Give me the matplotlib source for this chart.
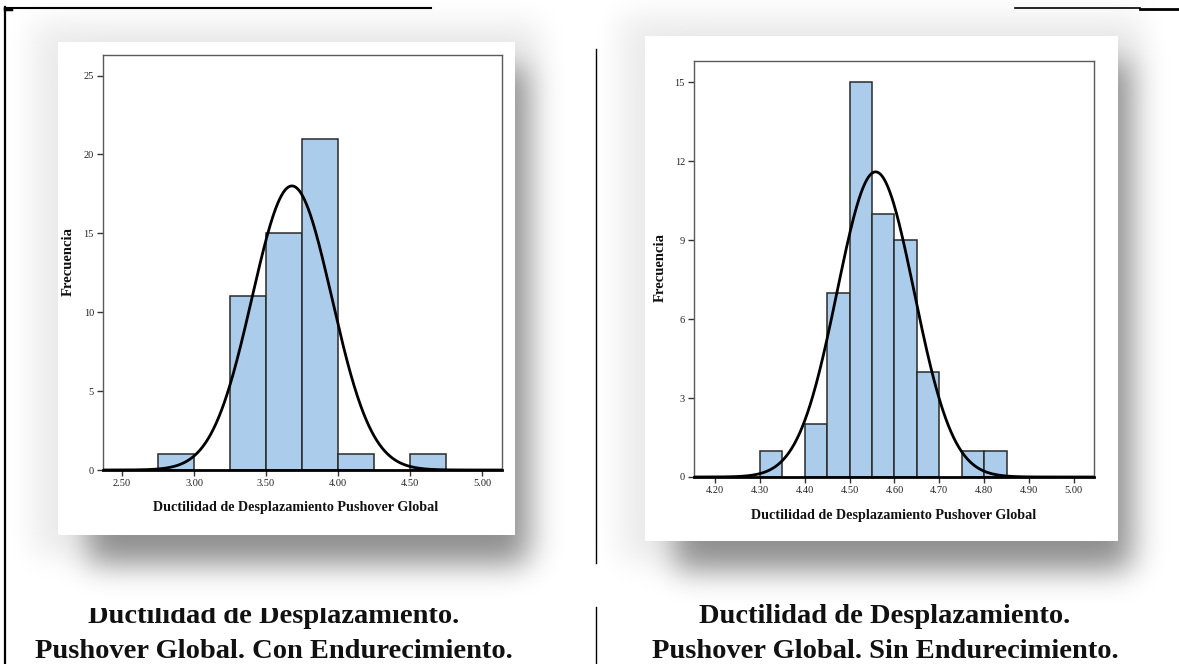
import numpy as np
import matplotlib
matplotlib.use("Agg")
import matplotlib.pyplot as plt
from matplotlib.patches import Rectangle
from matplotlib.transforms import Bbox

# ---- data -----------------------------------------------------------------
# Con endurecimiento: bins of width 0.25
con_bin_start = [2.75, 3.25, 3.50, 3.75, 4.00, 4.50]
con_counts = [1, 11, 15, 21, 1, 1]
con_bin_width = 0.25
con_mean, con_sd, con_n = 3.68, 0.277, 50
con_xticks = [2.50, 3.00, 3.50, 4.00, 4.50, 5.00]
con_yticks = [0, 5, 10, 15, 20, 25]

# Sin endurecimiento: bins of width 0.05
sin_bin_start = [4.30, 4.40, 4.45, 4.50, 4.55, 4.60, 4.65, 4.75, 4.80]
sin_counts = [1, 2, 7, 15, 10, 9, 4, 1, 1]
sin_bin_width = 0.05
sin_mean, sin_sd, sin_n = 4.558, 0.086, 50
sin_xticks = [4.20, 4.30, 4.40, 4.50, 4.60, 4.70, 4.80, 4.90, 5.00]
sin_yticks = [0, 3, 6, 9, 12, 15]

x_label = "Ductilidad de Desplazamiento Pushover Global"
y_label = "Frecuencia"
caption_con = ["Ductilidad de Desplazamiento.", "Pushover Global. Con Endurecimiento."]
caption_sin = ["Ductilidad de Desplazamiento.", "Pushover Global. Sin Endurecimiento."]

# ---- figure ----------------------------------------------------------------
W, H = 1179, 664
SERIF = ["Liberation Serif", "DejaVu Serif"]
BAR = "#abcdeb"

fig = plt.figure(figsize=(W / 100, H / 100), dpi=100)
fig.patch.set_facecolor("white")

bg = fig.add_axes([0, 0, 1, 1], zorder=0)
bg.set_xlim(0, W)
bg.set_ylim(H, 0)
bg.axis("off")


def blur1d(v, sigma):
    r = int(3 * sigma)
    k = np.exp(-0.5 * (np.arange(-r, r + 1) / sigma) ** 2)
    k /= k.sum()
    return np.convolve(np.pad(v, r, mode="edge"), k, mode="valid")


def soft_rect(x0, y0, x1, y1, sx, sy):
    xs = np.arange(W) + 0.5
    ys = np.arange(H) + 0.5
    fx = blur1d(((xs >= x0) & (xs <= x1)).astype(float), sx)
    fy = blur1d(((ys >= y0) & (ys <= y1)).astype(float), sy)
    return np.outer(fy, fx)


panels = [(58, 42, 515, 535), (645, 36, 1118, 541)]

# drop shadows behind the two picture frames
keep = np.ones((H, W))
for (x0, y0, x1, y1) in panels:
    keep *= 1 - 0.08 * soft_rect(x0 - 25, y0 - 20, x1 + 25, y1 + 20, 15, 15)
    keep *= 1 - 0.40 * soft_rect(x0 + 30, y0 + 25, x1 + 12, y1 + 30, 15, 15)
shadow = np.zeros((H, W, 4))
shadow[..., 3] = 1 - keep
bg.imshow(shadow, extent=(0, W, H, 0), interpolation="bilinear", zorder=0)

for (x0, y0, x1, y1) in panels:
    bg.add_patch(Rectangle((x0, y0), x1 - x0, y1 - y0, facecolor="white",
                           edgecolor="none", zorder=1))

# page rules
bg.plot([5, 431], [8, 8], color="black", lw=1.5, zorder=2)
bg.plot([1015, 1140], [8, 8], color="black", lw=1.2, zorder=2)
bg.plot([1140, 1179], [9, 9], color="black", lw=2.0, zorder=2)
bg.plot([5, 5], [7, 664], color="black", lw=1.6, zorder=2)
bg.plot([5, 11], [9, 9], color="black", lw=2.5, zorder=2)
bg.plot([596, 596], [49, 563], color="black", lw=1.0, zorder=2)
bg.plot([596, 596], [607, 664], color="black", lw=1.0, zorder=2)


def hist_panel(box, starts, counts, width, mean, sd, n, xlim, ylim,
               xticks, yticks, xlab_xy, ylab_xy):
    x0, y0, x1, y1 = box
    ax = fig.add_axes([x0 / W, 1 - y1 / H, (x1 - x0) / W, (y1 - y0) / H], zorder=2)
    ax.set_facecolor("white")
    ax.bar(starts, counts, width=width, align="edge", color=BAR,
           edgecolor="#2a2a2a", linewidth=1.1, zorder=2)
    xs = np.linspace(xlim[0], xlim[1], 600)
    curve = n * width * np.exp(-0.5 * ((xs - mean) / sd) ** 2) / (sd * np.sqrt(2 * np.pi))
    ax.plot(xs, curve, color="black", lw=2.0, zorder=3, solid_capstyle="round")
    ax.set_xlim(*xlim)
    ax.set_ylim(*ylim)
    ax.set_xticks(xticks)
    ax.set_xticklabels([f"{t:.2f}" for t in xticks])
    ax.set_yticks(yticks)
    ax.set_yticklabels([str(t) for t in yticks])
    for s in ("left", "top", "right"):
        ax.spines[s].set_color("#5a5a5a")
        ax.spines[s].set_linewidth(1.0)
    ax.spines["bottom"].set_color("black")
    ax.spines["bottom"].set_linewidth(2.0)
    ax.spines["bottom"].set_zorder(4)
    ax.tick_params(direction="out", length=4.5, width=1.0, color="#333333",
                   labelsize=7.5, labelcolor="#222222", pad=2)
    for lab in ax.get_xticklabels() + ax.get_yticklabels():
        lab.set_family(SERIF)
    bg.text(xlab_xy[0], xlab_xy[1], x_label, ha="center", va="center",
            fontsize=10.2, fontweight="bold", family=SERIF, color="#111111", zorder=3)
    bg.text(ylab_xy[0], ylab_xy[1], y_label, ha="center", va="center",
            rotation=90, fontsize=10.5, fontweight="bold", family=SERIF,
            color="#111111", zorder=3)
    return ax


hist_panel((103, 55, 502, 470), con_bin_start, con_counts, con_bin_width,
           con_mean, con_sd, con_n, (2.368, 5.139), (0, 26.3),
           con_xticks, con_yticks, (296, 508), (68, 262))
hist_panel((694, 61, 1094, 477), sin_bin_start, sin_counts, sin_bin_width,
           sin_mean, sin_sd, sin_n, (4.153, 5.045), (0, 15.81),
           sin_xticks, sin_yticks, (894, 516), (660, 268))

# captions under each picture
cap_kw = dict(ha="center", va="baseline", fontsize=20.5, fontweight="bold",
              family=SERIF, color="#111111", zorder=3)
t1 = bg.text(274, 623, caption_con[0], **cap_kw)
t1.set_clip_on(True)
t1.set_clip_box(Bbox.from_extents(0, 0, W, H - 608))
bg.text(274, 658, caption_con[1], **cap_kw)
bg.text(885, 623, caption_sin[0], **cap_kw)
bg.text(885, 658, caption_sin[1], **cap_kw)

fig.savefig("out.png", dpi=100, facecolor="white")
